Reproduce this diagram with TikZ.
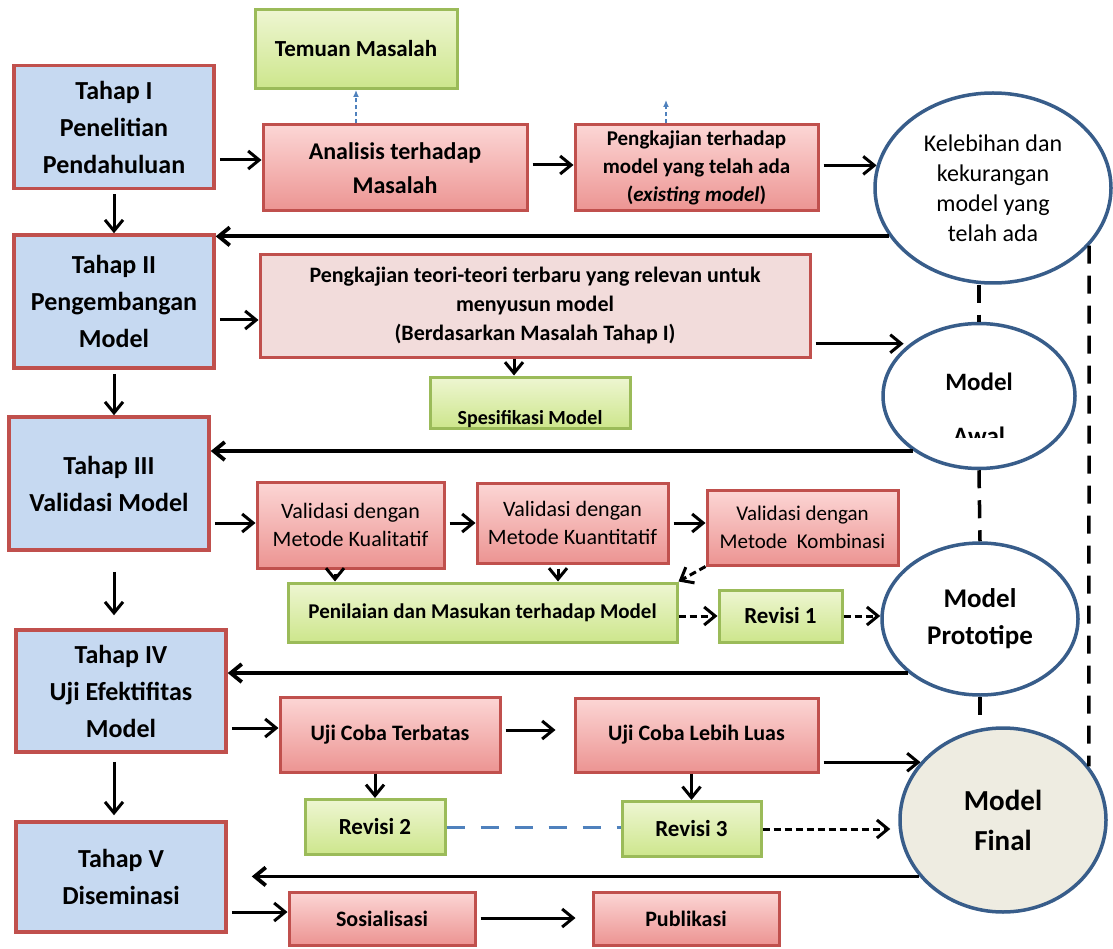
\documentclass[tikz,border=0pt]{standalone}
\usepackage{fontspec}
\setmainfont{Carlito}
\usetikzlibrary{shapes.geometric, arrows.meta}
\definecolor{tahapblue}{RGB}{198,217,241}
\definecolor{boxred}{RGB}{192,80,77}
\definecolor{pinktop}{RGB}{252,214,213}
\definecolor{pinkbot}{RGB}{236,148,146}
\definecolor{ptpink}{RGB}{242,220,219}
\definecolor{boxgreen}{RGB}{155,187,89}
\definecolor{greentop}{RGB}{238,246,210}
\definecolor{greenbot}{RGB}{205,230,140}
\definecolor{ovalblue}{RGB}{56,93,138}
\definecolor{finalfill}{RGB}{238,236,225}
\definecolor{dashblue}{RGB}{79,129,189}
\newcommand{\fsz}[2]{\fontsize{#1}{#2}\selectfont}

\begin{document}
\begin{tikzpicture}[x=1pt, y=-1pt, >={Straight Barb[length=11pt, width=18pt]},
    tahap/.style={draw=boxred, fill=tahapblue, line width=3.5pt, inner sep=0pt, align=center, font=\bfseries\fsz{26}{37}},
    redbox/.style={draw=boxred, line width=3pt, top color=pinktop, bottom color=pinkbot, inner sep=0pt, align=center, font=\bfseries\fsz{22}{29}},
    palebox/.style={draw=boxred, line width=3pt, fill=ptpink, inner sep=0pt, align=center, font=\bfseries\fsz{22}{29}},
    greenbox/.style={draw=boxgreen, line width=3pt, top color=greentop, bottom color=greenbot, inner sep=0pt, align=center, font=\bfseries\fsz{23}{29}},
    oval/.style={ellipse, draw=ovalblue, line width=3.5pt, fill=white, inner sep=0pt, align=center},
    flow/.style={->, line width=3pt, shorten <=4pt},
    back/.style={->, line width=3.8pt},
    dflow/.style={->, line width=3pt, dash pattern=on 7pt off 4pt},
    updash/.style={-{Latex[length=7pt, width=6pt]}, draw=dashblue, line width=1.3pt, dash pattern=on 4pt off 3pt},
    link/.style={line width=3.5pt, dash pattern=on 18pt off 12pt},
    bluelink/.style={draw=dashblue, line width=3pt, dash pattern=on 18pt off 16pt}]
    \useasboundingbox (0,0) rectangle (1113,949);
    % stage column
    \node[tahap, minimum width=200, minimum height=123] (t1) at (114,127) {Tahap I\\Penelitian\\Pendahuluan};
    \node[tahap, minimum width=200, minimum height=133] (t2) at (114,301.5) {Tahap II\\Pengembangan\\Model};
    \node[tahap, minimum width=200, minimum height=133] (t3) at (109,483.5) {Tahap III\\Validasi Model};
    \node[tahap, minimum width=210, minimum height=122] (t4) at (121,691) {Tahap IV\\Uji Efektifitas\\Model};
    \node[tahap, minimum width=210, minimum height=110] (t5) at (121,877) {Tahap V\\Diseminasi};
    % tahap I
    \node[greenbox, minimum width=202, minimum height=79] (tem) at (356,49) {Temuan Masalah};
    \node[redbox, minimum width=264, minimum height=86, font=\bfseries\fsz{24}{34}] (ana) at (395,168) {Analisis terhadap\\Masalah};
    \node[redbox, minimum width=243, minimum height=86, font=\bfseries\fsz{21}{28}] (pk) at (696.5,168) {Pengkajian terhadap\\model yang telah ada\\(\textit{existing model})};
    \node[oval, minimum width=236, minimum height=190, font=\fsz{24}{30}] (kel) at (993,188) {Kelebihan dan\\kekurangan\\model yang\\telah ada};
    \coordinate (pkup) at (666,100);
    % tahap II
    \node[palebox, minimum width=550, minimum height=102] (pt) at (535,306) {Pengkajian teori-teori terbaru yang relevan untuk\\menyusun model\\(Berdasarkan Masalah Tahap I)};
    \node[greenbox, minimum width=200, minimum height=51] (spes) at (530,402.5) {};
    \node[font=\bfseries\fsz{20}{24}] (spestxt) at (530,419) {Spesifikasi Model};
    \node[oval, minimum width=192, minimum height=145] (awal) at (979,396) {};
    \node[font=\bfseries\fsz{25}{30}] (awaltxt) at (979,382) {Model};
    \begin{scope}
    \clip (900,400) rectangle (1060,437);
    \node[font=\bfseries\fsz{25}{30}, anchor=base] (awallow) at (979,444) {Awal};
    \end{scope}
    % tahap III
    \node[redbox, minimum width=187, minimum height=86, font=\fsz{22}{28}] (vk1) at (350.5,525) {Validasi dengan\\Metode Kualitatif};
    \node[redbox, minimum width=191, minimum height=80, font=\fsz{22}{28}] (vk2) at (572.5,523) {Validasi dengan\\Metode Kuantitatif};
    \node[redbox, minimum width=191, minimum height=75, font=\fsz{21}{28}] (vk3) at (802.5,527.5) {Validasi dengan\\Metode\ \ Kombinasi};
    \node[greenbox, minimum width=389, minimum height=59, font=\bfseries\fsz{21}{24}] (pen) at (482.5,612.5) {Penilaian dan Masukan terhadap Model};
    \node[greenbox, minimum width=123, minimum height=52] (rev1) at (780.5,616) {Revisi 1};
    \node[oval, minimum width=196, minimum height=152, font=\bfseries\fsz{27}{37}] (proto) at (980,619) {Model\\Prototipe};
    % tahap IV
    \node[redbox, minimum width=220, minimum height=75] (ut) at (390,734.5) {Uji Coba Terbatas};
    \node[redbox, minimum width=243, minimum height=74] (ul) at (696.5,735) {Uji Coba Lebih Luas};
    \node[greenbox, minimum width=140, minimum height=55] (rev2) at (375,827) {Revisi 2};
    \node[greenbox, minimum width=139, minimum height=55] (rev3) at (691.5,829) {Revisi 3};
    \node[oval, fill=finalfill, minimum width=206, minimum height=184, font=\bfseries\fsz{29}{40}] (final) at (1003,820) {Model\\Final};
    % tahap V
    \node[redbox, minimum width=186, minimum height=53] (sos) at (382,918.5) {Sosialisasi};
    \node[redbox, minimum width=186, minimum height=53] (pub) at (686,918.5) {Publikasi};
    % connectors
    \draw[flow] (t1.east |- 0,160) -- (ana.west |- 0,160);
    \draw[flow] (ana.east |- 0,165) -- (pk.west |- 0,165);
    \draw[flow] (pk.east |- kel.169) -- (kel.169);
    \draw[updash] (ana.north -| tem.south) -- (tem.south);
    \draw[updash] (pk.north -| pkup) -- (pkup);
    \draw[flow] (t1.south) -- (t2.north);
    \draw[back] (kel.205) -- (t2.east |- kel.205);
    \draw[flow] (t2.east |- 0,320) -- (pt.west |- 0,320);
    \draw[flow, shorten >=6pt] (pt.east |- awal.143) -- (awal.143);
    \draw[flow, shorten <=0pt] (pt.south -| 514,0) -- (spes.north -| 514,0);
    \draw[flow] (t2.south) -- (t2.south |- t3.north);
    \draw[back] (awal.220) -- (t3.east |- awal.220);
    \draw[flow] (t3.east |- 0,523) -- (vk1.west |- 0,523);
    \draw[flow] (vk1.east |- 0,523) -- (vk2.west |- 0,523);
    \draw[flow] (vk2.east |- 0,523) -- (vk3.west |- 0,523);
    \draw[flow] (vk1.south -| 335,0) -- (pen.north -| 335,0);
    \draw[flow] (vk2.south -| 558,0) -- (pen.north -| 558,0);
    \draw[dflow] (vk3.south west) -- (pen.north east);
    \draw[dflow] (pen.east |- rev1.west) -- (rev1.west);
    \draw[dflow] (rev1.east) -- (rev1.east -| proto.west);
    \draw[flow, shorten <=20pt, shorten >=13pt] (t3.south -| t1.south) -- (t4.north -| t1.south);
    \draw[back] (proto.217) -- (t4.east |- proto.217);
    \draw[flow] (t4.east |- 0,728) -- (ut.west |- 0,728);
    \draw[flow, shorten >=18pt] (ut.east |- 0,730) -- (ul.west |- 0,730);
    \draw[flow] (ul.east |- final.145) -- (final.145);
    \draw[flow, shorten <=0pt] (ut.south -| rev2.north) -- (rev2.north);
    \draw[flow, shorten <=0pt] (ul.south -| rev3.north) -- (rev3.north);
    \draw[bluelink] (rev2.east) -- (rev3.west |- rev2.east);
    \draw[dflow, shorten >=8pt] (rev3.east) -- (rev3.east -| final.west);
    \draw[flow, shorten <=8pt, shorten >=5pt] (t4.south -| t1.south) -- (t5.north -| t1.south);
    \draw[back, shorten >=24pt] (final.214) -- (t5.east |- final.214);
    \draw[flow] (t5.east |- 0,912) -- (sos.west |- 0,912);
    \draw[flow, shorten >=16pt] (sos.east |- 0,918) -- (pub.west |- 0,918);
    % dashed links between the models
    \draw[link] (awal.north |- kel.south) -- (awal.north);
    \draw[link] (awal.south) -- (proto.north);
    \draw[link] (proto.south) -- (proto.south |- final.north);
    \draw[link] (kel.-31) -- (final.32);
\end{tikzpicture}
\end{document}
